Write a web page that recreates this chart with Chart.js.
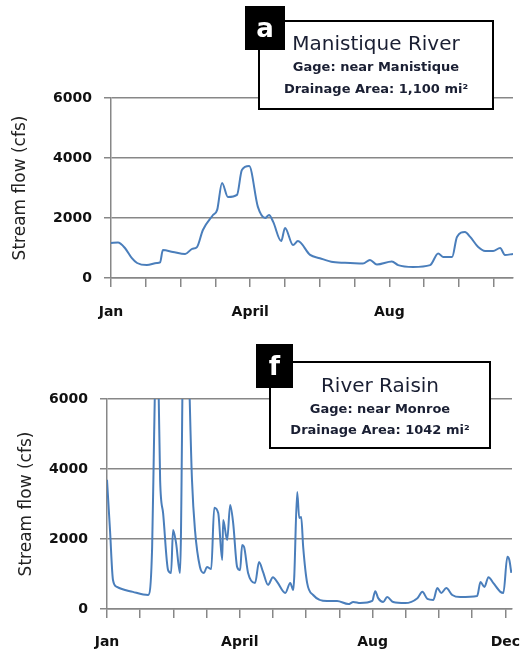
<!DOCTYPE html>
<html>
<head>
<meta charset="utf-8">
<script src="https://cdn.jsdelivr.net/npm/chart.js@4.4.1/dist/chart.umd.min.js"></script>
<style>
  body { margin: 0; background: #fff; }
  #wrap { position: relative; width: 523px; height: 654px; overflow: hidden; font-family: "DejaVu Sans", sans-serif; }
  .panel { position: absolute; left: 0; width: 523px; height: 327px; }
  .box { position: absolute; border: 2px solid #000; background: #fff; box-sizing: border-box; }
  .tag { position: absolute; background: #000; color: #fff; font-weight: bold; font-size: 26px; text-align: center; }
  .line { position: absolute; left: 0; right: 0; text-align: center; white-space: nowrap; color: #1a1f33; }
  .t1 { font-size: 20px; }
  .t2 { font-size: 13px; font-weight: bold; }
</style>
</head>
<body>
<div id="wrap">
  <div class="panel" style="top:0"><canvas id="chartA" width="523" height="327"></canvas></div>
  <div class="panel" style="top:327px"><canvas id="chartF" width="523" height="327"></canvas></div>

  <div class="box" style="left:258px;top:20px;width:236px;height:90px">
    <div class="line t1" style="top:9px">Manistique River</div>
    <div class="line t2" style="top:37px">Gage: near Manistique</div>
    <div class="line t2" style="top:59px">Drainage Area: 1,100 mi²</div>
  </div>
  <div class="tag" style="left:245px;top:6px;width:40px;height:44px;line-height:44px">a</div>

  <div class="box" style="left:269px;top:361px;width:222px;height:88px">
    <div class="line t1" style="top:10px">River Raisin</div>
    <div class="line t2" style="top:38px">Gage: near Monroe</div>
    <div class="line t2" style="top:59px">Drainage Area: 1042 mi²</div>
  </div>
  <div class="tag" style="left:256px;top:344px;width:37px;height:44px;line-height:44px">f</div>
</div>

<script>
// x values are in months from Jan 1, y values are stream flow in cfs
const manistiqueMonths = [0, 0.2, 0.4, 0.6, 0.75, 1.03, 1.32, 1.41, 1.49, 1.78, 2.13, 2.33, 2.47, 2.64, 2.93,
  3.05, 3.19, 3.36, 3.62, 3.76, 3.97, 4.22, 4.43, 4.54, 4.66, 4.89, 5.0, 5.23, 5.37, 5.72, 6.0, 6.38, 6.87,
  7.24, 7.44, 7.64, 8.07, 8.25, 8.68, 9.17, 9.4, 9.54, 9.8, 9.94, 10.17, 10.32, 10.55, 10.75, 10.98, 11.18,
  11.32, 11.55];
const manistiqueFlow = [1170, 1180, 1000, 660, 500, 430, 500, 520, 930, 870, 800, 970, 1030, 1600, 2100,
  2270, 3170, 2700, 2770, 3600, 3730, 2370, 2000, 2100, 1870, 1230, 1670, 1100, 1230, 770, 660, 530, 500,
  480, 600, 450, 550, 430, 370, 430, 820, 700, 700, 1370, 1530, 1370, 1030, 900, 900, 1000,
  770, 800];

const raisinMonths = [0, 0.09, 0.18, 0.3, 0.78, 1.24, 1.36, 1.42, 1.48, 1.55, 1.6, 1.69, 1.84, 1.93, 1.99,
  2.08, 2.2, 2.32, 2.41, 2.56, 2.65, 2.8, 2.92, 3.01, 3.14, 3.23, 3.35, 3.47, 3.5, 3.62, 3.71, 3.8, 3.92,
  4.01, 4.07, 4.13, 4.25, 4.46, 4.58, 4.7, 4.85, 5.0, 5.13, 5.37, 5.52, 5.61, 5.64, 5.73, 5.79, 5.85, 5.91,
  6.03, 6.21, 6.63, 6.93, 7.27, 7.42, 7.63, 7.99, 8.08, 8.17, 8.32, 8.44, 8.62, 8.98, 9.35, 9.5, 9.65, 9.83,
  9.95, 10.07, 10.22, 10.4, 10.64, 11.15, 11.25, 11.37, 11.49, 11.64, 11.85, 11.94, 12.06, 12.12, 12.18];
const raisinFlow = [3690, 2260, 830, 630, 490, 400, 1770, 5000, 7500, 6500, 3690, 2740, 1110, 1030, 2260,
  1890, 1030, 9000, 8500, 3690, 2260, 1200, 1030, 1200, 1140, 2890, 2740, 1400, 2540, 1970, 2970, 2460, 1200,
  1110, 1830, 1770, 1030, 740, 1340, 1060, 690, 910, 770, 460, 740, 540, 910, 3340, 2600, 2630, 1770,
  740, 400, 230, 230, 140, 200, 170, 230, 510, 310, 200, 340, 200, 170, 310, 490, 290, 260, 600,
  460, 600, 400, 340, 370, 770, 630, 910, 740, 490, 460, 1490, 1400, 1030];

const monthLabels = { 0: 'Jan', 4: 'April', 8: 'Aug', 12: 'Dec' };
const yTicks = [0, 2000, 4000, 6000];

const gridColor = '#878787';
const textColor = '#111';

function makeChart(id, xs, ys, opt) {
  const pts = xs.map((x, i) => ({ x: x, y: ys[i] }));
  return new Chart(document.getElementById(id), {
    type: 'line',
    data: {
      datasets: [{
        data: pts,
        borderColor: '#4a7ebb',
        borderWidth: 2,
        pointRadius: 0,
        cubicInterpolationMode: 'monotone',
        fill: false
      }]
    },
    options: {
      responsive: false,
      animation: false,
      layout: { padding: { top: opt.top, right: opt.right, left: 0, bottom: 0 } },
      plugins: { legend: { display: false }, tooltip: { enabled: false } },
      scales: {
        x: {
          type: 'linear',
          min: 0,
          max: opt.xMax,
          afterFit: s => { s.height = opt.xHeight; s.paddingLeft = 0; s.paddingRight = 0; },
          grid: { drawOnChartArea: false, color: gridColor, lineWidth: 1.5, tickLength: 9 },
          border: { color: gridColor, width: 1.5 },
          ticks: {
            stepSize: 1,
            includeBounds: false,
            autoSkip: false,
            maxRotation: 0,
            padding: opt.xPad,
            color: textColor,
            font: { family: 'DejaVu Sans', weight: 'bold', size: 14 },
            callback: v => monthLabels[v] || ''
          }
        },
        y: {
          min: 0,
          max: 6000,
          afterFit: s => { s.width = opt.yWidth; s.paddingTop = 0; s.paddingBottom = 0; },
          afterBuildTicks: s => { s.ticks = yTicks.map(v => ({ value: v })); },
          grid: { color: gridColor, lineWidth: 1.5, tickLength: 7 },
          border: { color: gridColor, width: 1.5 },
          ticks: {
            padding: 12,
            color: textColor,
            font: { family: 'DejaVu Sans', weight: 'bold', size: 14 },
            callback: v => String(v)
          },
          title: {
            display: true,
            text: 'Stream flow (cfs)',
            color: '#222',
            padding: { top: opt.titlePad, bottom: 0 },
            font: { family: 'DejaVu Sans', size: 17 }
          }
        }
      }
    }
  });
}

makeChart('chartA', manistiqueMonths, manistiqueFlow,
  { top: 98, right: 10, xMax: 11.55, xHeight: 49, yWidth: 111, xPad: 17, titlePad: 10 });
makeChart('chartF', raisinMonths, raisinFlow,
  { top: 72, right: 11, xMax: 12.2, xHeight: 45, yWidth: 107, xPad: 16, titlePad: 16 });
</script>
</body>
</html>
